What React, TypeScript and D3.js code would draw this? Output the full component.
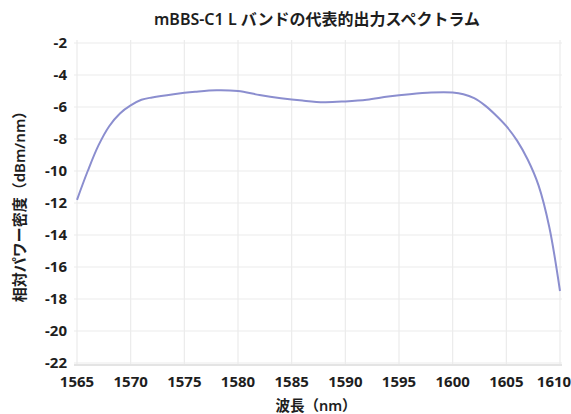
import React, { useEffect, useRef } from 'react'
import * as d3 from 'd3'

// 波長 (nm) と相対パワー密度 (dBm/nm)
const wavelengths = [1565, 1566, 1567, 1568, 1569, 1570, 1571, 1572, 1574, 1576, 1578, 1580, 1582, 1584, 1586, 1588, 1590, 1592, 1594, 1596, 1598, 1600, 1601, 1602, 1603, 1604, 1605, 1606, 1607, 1608, 1609, 1610]
const powers = [-11.8, -10.0, -8.4, -7.2, -6.4, -5.9, -5.55, -5.4, -5.2, -5.05, -4.95, -5.0, -5.25, -5.45, -5.6, -5.7, -5.65, -5.55, -5.35, -5.2, -5.1, -5.1, -5.2, -5.45, -5.9, -6.5, -7.2, -8.1, -9.3, -10.9, -13.5, -17.5]
const xTicks = [1565, 1570, 1575, 1580, 1585, 1590, 1595, 1600, 1605, 1610]
const yTicks = [-2, -4, -6, -8, -10, -12, -14, -16, -18, -20, -22]

const title = 'mBBS-C1 L バンドの代表的出力スペクトラム'
const xTitle = '波長（nm）'
const yTitle = '相対パワー密度（dBm/nm）'

const width = 571, height = 414
const font = '"Noto Sans", "Noto Sans CJK JP", sans-serif'

export default function App() {
  const ref = useRef<SVGSVGElement>(null)

  useEffect(() => {
    const svg = d3.select(ref.current)
    svg.selectAll('*').remove()

    const x = d3.scaleLinear([1565, 1610], [77, 560])
    const y = d3.scaleLinear([-22, -2], [363, 43])

    // grid
    const grid = svg.append('g').attr('stroke', '#ebebeb').attr('stroke-width', 1.2)
    grid.selectAll('line.v').data(xTicks).join('line')
      .attr('x1', d => x(d)).attr('x2', d => x(d))
      .attr('y1', y(-2) - 3).attr('y2', y(-22) + 2)
    grid.selectAll('line.h').data(yTicks).join('line')
      .attr('x1', x(1565) - 3).attr('x2', x(1610) + 2)
      .attr('y1', d => y(d)).attr('y2', d => y(d))
    svg.append('line')
      .attr('x1', x(1565) - 3).attr('x2', x(1610) + 2)
      .attr('y1', y(-22) + 2).attr('y2', y(-22) + 2)
      .attr('stroke', '#e4e4e4').attr('stroke-width', 2)

    // ticks
    svg.append('g').selectAll('text').data(yTicks).join('text')
      .attr('x', 67).attr('y', d => y(d)).attr('dy', '0.35em')
      .attr('text-anchor', 'end')
      .attr('font-family', font).attr('font-size', 15).attr('font-weight', 700)
      .attr('fill', '#1e1e1e').text(d => d)
    svg.append('g').selectAll('text').data(xTicks).join('text')
      .attr('x', d => x(d) - (d === 1610 ? 6 : 0)).attr('y', 387)
      .attr('text-anchor', 'middle')
      .attr('font-family', font).attr('font-size', 15).attr('font-weight', 700)
      .attr('fill', '#1e1e1e').text(d => d)

    // line
    const data = wavelengths.map((w, i) => [w, powers[i]] as [number, number])
    const line = d3.line<[number, number]>()
      .x(d => x(d[0])).y(d => y(d[1]))
      .curve(d3.curveCatmullRom.alpha(0.5))
    svg.append('path').datum(data)
      .attr('d', line)
      .attr('fill', 'none')
      .attr('stroke', '#8b8ecf')
      .attr('stroke-width', 2)

    // titles
    svg.append('text')
      .attr('x', 317).attr('y', 25).attr('text-anchor', 'middle')
      .attr('font-family', font).attr('font-size', 16).attr('font-weight', 600)
      .attr('fill', '#1e1e1e').text(title)
    svg.append('text')
      .attr('x', 316).attr('y', 411).attr('text-anchor', 'middle')
      .attr('font-family', font).attr('font-size', 14.5).attr('font-weight', 600)
      .attr('fill', '#1e1e1e').text(xTitle)
    svg.append('text')
      .attr('transform', `translate(25,203) rotate(-90)`)
      .attr('text-anchor', 'middle')
      .attr('font-family', font).attr('font-size', 15).attr('font-weight', 600)
      .attr('fill', '#1e1e1e').text(yTitle)
  }, [])

  return (
    <svg ref={ref} width={width} height={height}
      style={{ position: 'fixed', left: 0, top: 0, background: '#fff' }} />
  )
}
